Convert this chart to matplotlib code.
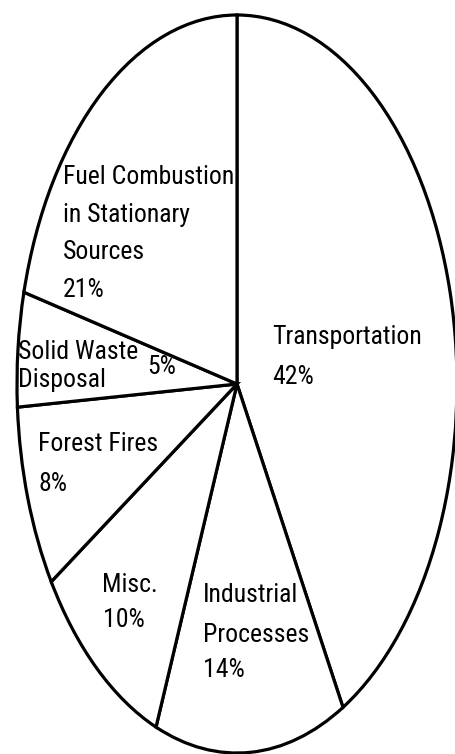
import matplotlib
matplotlib.use("Agg")
import matplotlib.pyplot as plt

# slices, clockwise from the top
categories = ['Transportation', 'Industrial Processes', 'Misc.', 'Forest Fires',
              'Solid Waste Disposal', 'Fuel Combustion in Stationary Sources']
shares = [42, 14, 10, 8, 5, 21]

# label text per slice: name lines, then the percent
name_lines = [
    ['Transportation'],
    ['Industrial', 'Processes'],
    ['Misc.'],
    ['Forest Fires'],
    ['Solid Waste', 'Disposal'],
    ['Fuel Combustion', 'in Stationary', 'Sources'],
]

W, H = 455, 754
fig = plt.figure(figsize=(W / 100, H / 100), dpi=100)
ax = fig.add_axes([0, 0, 1, 1])

ax.pie(shares, startangle=90, counterclock=False,
       wedgeprops=dict(facecolor='white', edgecolor='black', linewidth=2.3))
ax.set_aspect('auto')

# pie centre at pixel (237, 384), radii 220 x 369 px
cx, cy, rx, ry = 237, 384, 220, 369
ax.set_xlim((0 - cx) / rx, (W - cx) / rx)
ax.set_ylim((cy - H) / ry, (cy - 0) / ry)
ax.axis('off')

# top-left pixel positions of each text line (names then percent)
layout = {
    'Transportation': [(272, 325), (272, 365)],
    'Industrial Processes': [(203, 583), (203, 623), (203, 658)],
    'Misc.': [(102, 573), (103, 608)],
    'Forest Fires': [(38, 432), (38, 472)],
    'Solid Waste Disposal': [(18, 340), (18, 368), (147, 355)],
    'Fuel Combustion in Stationary Sources': [(63, 165), (63, 203), (63, 240), (63, 278)],
}

font = dict(family=['Roboto Condensed', 'DejaVu Sans Condensed', 'Liberation Sans'],
            stretch='condensed', size=18.5, color='black')

for cat, lines, share in zip(categories, name_lines, shares):
    texts = lines + [f"{share}%"]
    for txt, (px, py) in zip(texts, layout[cat]):
        fig.text(px / W, 1 - py / H, txt, ha='left', va='top', **font)

fig.savefig('out.png', dpi=100, facecolor='white')
